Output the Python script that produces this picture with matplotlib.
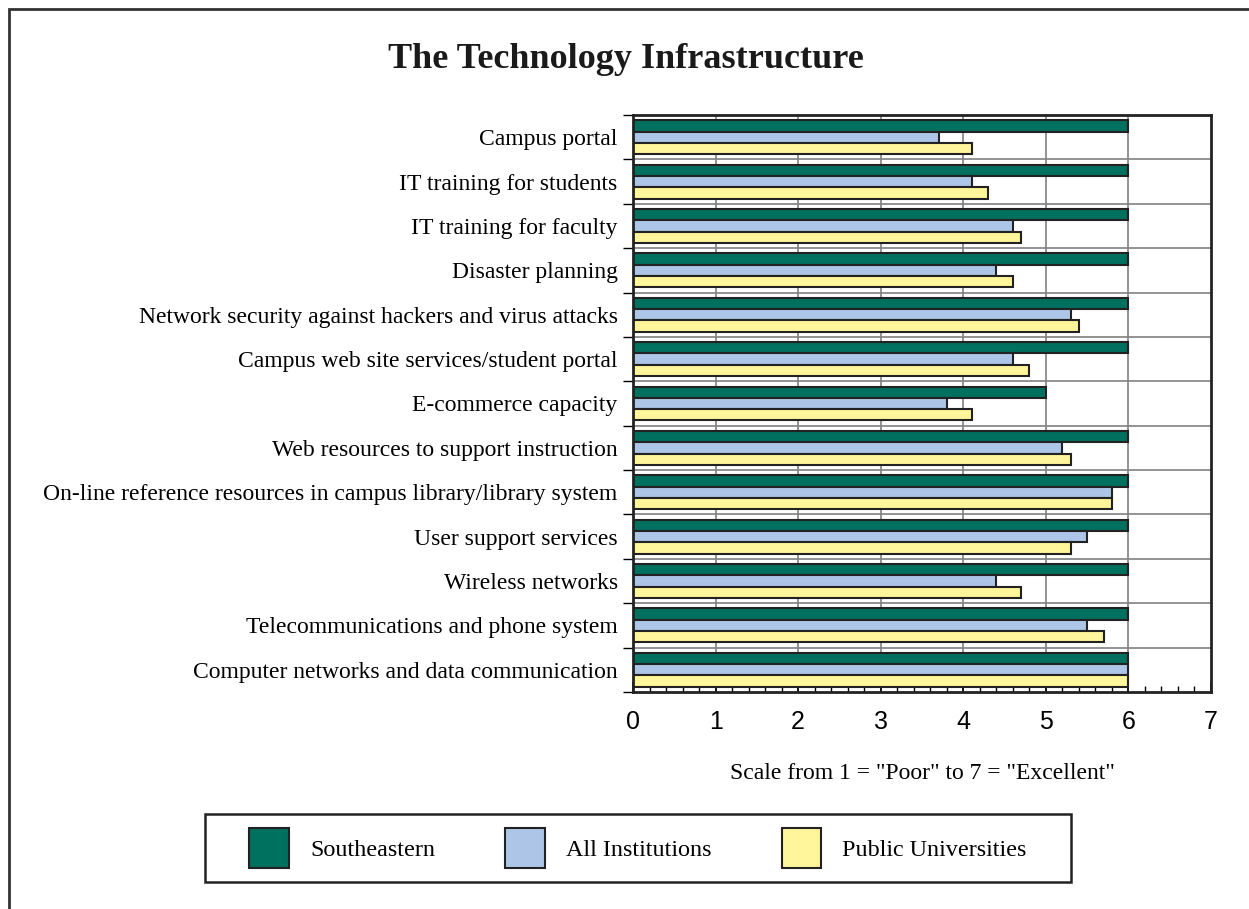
import matplotlib
matplotlib.use("Agg")
import matplotlib.pyplot as plt
from matplotlib.patches import Rectangle, Patch
import numpy as np

categories = [
    "Campus portal",
    "IT training for students",
    "IT training for faculty",
    "Disaster planning",
    "Network security against hackers and virus attacks",
    "Campus web site services/student portal",
    "E-commerce capacity",
    "Web resources to support instruction",
    "On-line reference resources in campus library/library system",
    "User support services",
    "Wireless networks",
    "Telecommunications and phone system",
    "Computer networks and data communication",
]
southeastern = [6, 6, 6, 6, 6, 6, 5, 6, 6, 6, 6, 6, 6]
all_inst = [3.7, 4.1, 4.6, 4.4, 5.3, 4.6, 3.8, 5.2, 5.8, 5.5, 4.4, 5.5, 6.0]
public_univ = [4.1, 4.3, 4.7, 4.6, 5.4, 4.8, 4.1, 5.3, 5.8, 5.3, 4.7, 5.7, 6.0]
series_names = ["Southeastern", "All Institutions", "Public Universities"]
colors = ["#00705f", "#adc6e8", "#fff59a"]

serif = "Liberation Serif"
sans = "Liberation Sans"

fig = plt.figure(figsize=(12.49, 9.09), dpi=100)
ax = fig.add_axes([633/1249, 1-692/909, (1211-633)/1249, (692-115)/909])

y = np.arange(len(categories))
h = 0.255
for k, (vals, c) in enumerate(zip([southeastern, all_inst, public_univ], colors)):
    ax.barh(y + (k-1)*h, vals, height=h, color=c, edgecolor="#222222",
            linewidth=1.5, zorder=2)

ax.set_xlim(0, 7)
ax.set_ylim(len(categories)-0.5, -0.5)

# grid lines behind the bars
for xv in range(1, 7):
    ax.axvline(xv, color="#808080", linewidth=1.2, zorder=0)
for yv in np.arange(1, len(categories)) - 0.5:
    ax.axhline(yv, color="#808080", linewidth=1.2, zorder=0)

ax.set_yticks(y)
ax.set_yticklabels(categories, fontfamily=serif, fontsize=17)
ax.set_yticks(np.arange(len(categories)+1)-0.5, minor=True)
ax.tick_params(axis="y", which="major", length=0, pad=11)
ax.tick_params(axis="y", which="minor", length=7, width=1, direction="out")

ax.set_xticks(np.arange(0, 8))
ax.set_xticks(np.arange(0, 7.01, 0.2), minor=True)
ax.tick_params(axis="x", which="major", length=7, width=1.2, direction="in", pad=13)
ax.tick_params(axis="x", which="minor", length=4.5, width=1, direction="in")
for t in ax.get_xticklabels():
    t.set_fontfamily(sans)
    t.set_fontsize(18)
for s in ax.spines.values():
    s.set_linewidth(2)
    s.set_color("#222222")

ax.set_xlabel('Scale from 1 = "Poor" to 7 = "Excellent"', fontfamily=serif,
              fontsize=17, labelpad=21)

fig.text(626/1249, 1-59/909, "The Technology Infrastructure", ha="center", va="center",
         fontfamily=serif, fontsize=26, fontweight="bold", color="#1a1a1a")

# legend box
fig.patches.append(Rectangle((205/1249, 1-882/909), 866/1249, 68/909,
                             transform=fig.transFigure, fill=False,
                             edgecolor="#222222", linewidth=1.8))
handles = [Patch(facecolor=c, edgecolor="#222222", linewidth=1.5) for c in colors]
fig.legend(handles, series_names, loc="center", bbox_to_anchor=(638/1249, 1-848/909),
           ncol=3, frameon=False, prop={"family": serif, "size": 17.4},
           handlelength=1.65, handleheight=2.2, handletextpad=0.87, columnspacing=2.9)

# outer border
fig.patches.append(Rectangle((9/1249, -0.05), 1.2, 1.05 - 9/909,
                             transform=fig.transFigure, fill=False,
                             edgecolor="#333333", linewidth=2))

fig.savefig("out.png", dpi=100)
